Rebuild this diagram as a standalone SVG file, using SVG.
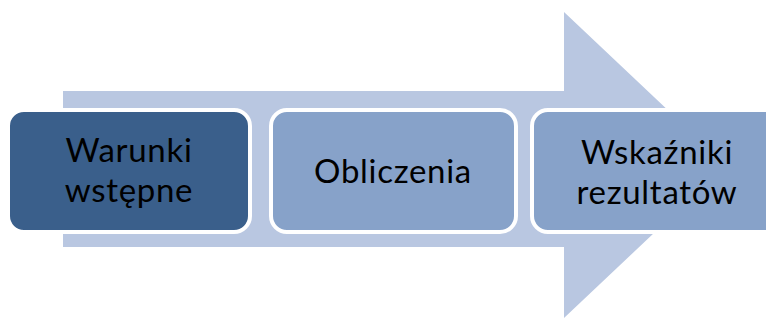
<svg xmlns="http://www.w3.org/2000/svg" width="766" height="320" viewBox="0 0 766 320">
  <style>
    .box { stroke: #ffffff; stroke-width: 4; }
    .dark { fill: #3a5f8b; }
    .light { fill: #87a2c9; }
    .label { font-family: Lato, "Open Sans", "Liberation Sans", sans-serif; font-size: 33px; letter-spacing: 0.7px; fill: #000000; text-anchor: middle; }
  </style>
  <!-- background process arrow -->
  <g id="arrow">
    <polygon points="63,91 564,91 564,12 726,165 564,318 564,247 63,247" fill="#b9c7e1"/>
  </g>
  <g id="step1">
    <rect class="box dark" x="8" y="110" width="242" height="122" rx="16"/>
    <text class="label" x="129" y="162">Warunki</text>
    <text class="label" x="129" y="202">wstępne</text>
  </g>
  <g id="step2">
    <rect class="box light" x="271" y="110" width="245" height="122" rx="16"/>
    <text class="label" x="393" y="183">Obliczenia</text>
  </g>
  <g id="step3">
    <rect class="box light" x="532" y="110" width="250" height="122" rx="16"/>
    <text class="label" x="657" y="164">Wskaźniki</text>
    <text class="label" x="657" y="204">rezultatów</text>
  </g>
  <g id="connectors"/>
</svg>
